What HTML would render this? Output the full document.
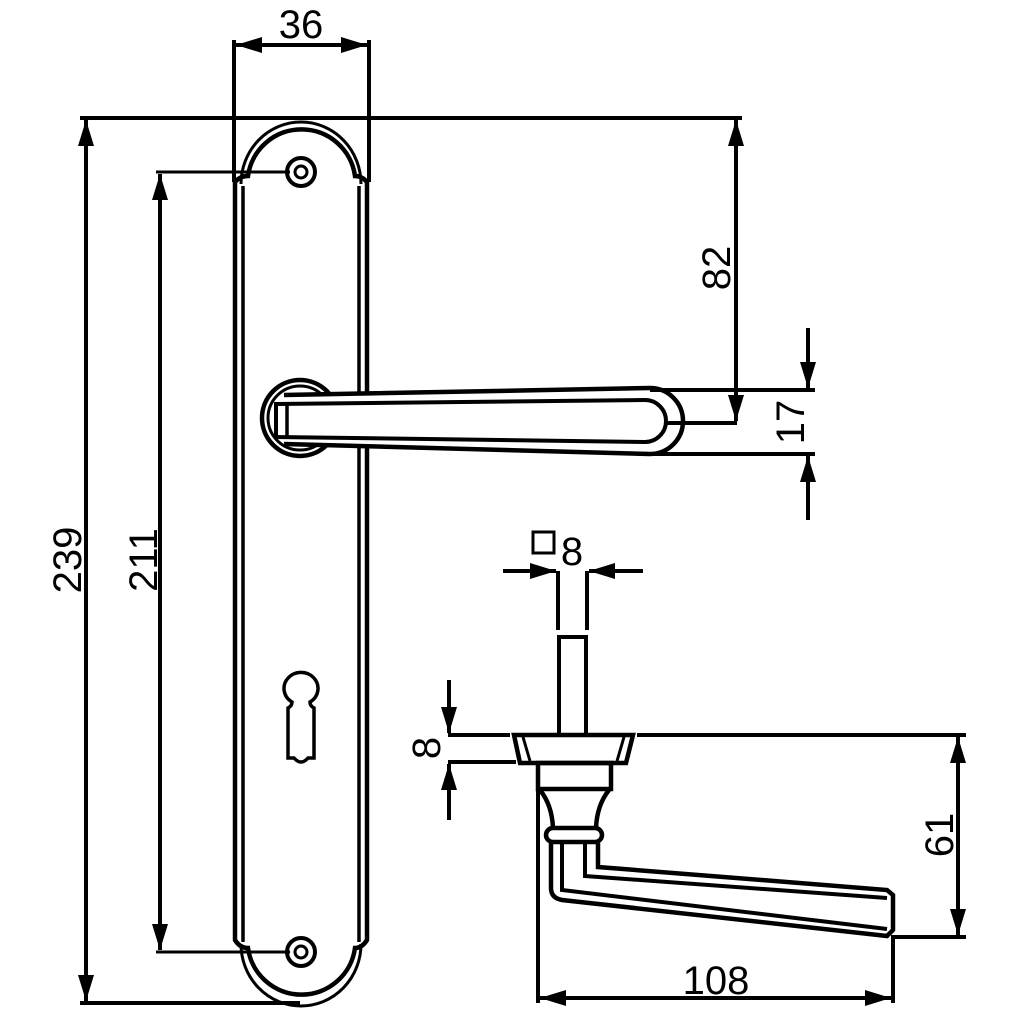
<!DOCTYPE html>
<html><head><style>html,body{margin:0;padding:0;background:#fff}svg{display:block}text{font-family:"Liberation Sans",sans-serif;font-size:40px;fill:#000}</style></head>
<body>
<svg width="1024" height="1024" viewBox="0 0 1024 1024" xmlns="http://www.w3.org/2000/svg">
<defs>
<marker id="a" viewBox="0 0 26 16" refX="26" refY="8" markerWidth="26" markerHeight="16" markerUnits="userSpaceOnUse" orient="auto-start-reverse"><path d="M0,0 L26,8 L0,16 Z" fill="#000"/></marker>
</defs>
<g stroke="#000" fill="none" stroke-width="4">
<!-- 36 dim -->
<line x1="234" y1="40" x2="234" y2="182"/>
<line x1="369" y1="40" x2="369" y2="182"/>
<line x1="236" y1="45" x2="367" y2="45" marker-start="url(#a)" marker-end="url(#a)"/>
<line x1="80" y1="118" x2="742" y2="118"/>
<line x1="80" y1="1003" x2="300" y2="1003"/>
<line x1="86" y1="120" x2="86" y2="1001" marker-start="url(#a)" marker-end="url(#a)"/>
<line x1="156" y1="172" x2="290" y2="172" stroke-width="3"/>
<line x1="156" y1="952" x2="290" y2="952" stroke-width="3"/>
<line x1="160" y1="174" x2="160" y2="950" marker-start="url(#a)" marker-end="url(#a)"/>
<!-- plate -->
<path d="M235,182 L235,940 Q240,948 248,948 A54,54 0 0 0 355,948 Q362,948 367,940 L367,182 Q362,176 355,176 A54,54 0 0 0 248,176 Q240,176 235,182 Z" stroke-width="4.5"/>
<path d="M243,186 L243,942 M359,186 L359,942" stroke-width="3.5"/>
<path d="M241,184 A60,62 0 0 1 361,184" stroke-width="3"/>
<path d="M241,944 A60,62 0 0 0 361,944" stroke-width="3"/>
<circle cx="301" cy="172" r="14" stroke-width="4"/><circle cx="301" cy="172" r="6" stroke-width="3"/>
<circle cx="301" cy="952" r="14" stroke-width="4"/><circle cx="301" cy="952" r="6" stroke-width="3"/>
<!-- keyhole -->
<path d="M292,702 A17,16 0 1 1 310,702 Q310,706 314,708 L314,758 L308,758 Q301,766 294,758 L288,758 L288,708 Q292,706 292,702 Z" stroke-width="3.5"/>
<!-- top lever -->
<circle cx="300" cy="418" r="38" stroke-width="4.5" fill="#fff"/>
<circle cx="300" cy="418" r="32" stroke-width="3"/>
<path d="M284,395 L650,388 A33,33 0 0 1 650,454 L284,444" stroke-width="4.5" fill="#fff"/>
<path d="M276,404 L645,400 A21,21 0 0 1 645,442 L276,437 Z" stroke-width="4"/>
<line x1="287" y1="404" x2="287" y2="437" stroke-width="3.5"/>
<line x1="650" y1="390" x2="815" y2="390"/>
<line x1="650" y1="454" x2="815" y2="454"/>
<line x1="667" y1="423" x2="737" y2="423"/>
<line x1="736" y1="120" x2="736" y2="421" marker-start="url(#a)" marker-end="url(#a)"/>
<line x1="808" y1="328" x2="808" y2="388" marker-end="url(#a)"/>
<line x1="808" y1="520" x2="808" y2="456" marker-end="url(#a)"/>
<!-- spindle -->
<line x1="503" y1="571" x2="556" y2="571" marker-end="url(#a)"/>
<line x1="643" y1="571" x2="589" y2="571" marker-end="url(#a)"/>
<line x1="558" y1="571" x2="558" y2="630"/>
<line x1="587" y1="571" x2="587" y2="630"/>
<rect x="559" y="637" width="27" height="98"/>
<rect x="533" y="532" width="21" height="21" stroke-width="3"/>
<!-- rose -->
<path d="M514,735 L633,735 L626,763 L520,763 Z" stroke-width="4.5"/>
<path d="M523,737 L530,761 M624,737 L617,761" stroke-width="3"/>
<line x1="448" y1="735" x2="510" y2="735"/>
<line x1="448" y1="762" x2="516" y2="762"/>
<line x1="637" y1="735" x2="966" y2="735"/>
<line x1="449" y1="680" x2="449" y2="733" marker-end="url(#a)"/>
<line x1="449" y1="820" x2="449" y2="764" marker-end="url(#a)"/>
<rect x="538" y="763" width="73" height="26" stroke-width="4.5"/>
<path d="M540,790 Q552,805 553,828 M609,790 Q597,805 596,828" stroke-width="4.5"/>
<rect x="546" y="828" width="56" height="14" rx="7" stroke-width="4.5"/>
<path d="M551,843 L551,888 Q551,898 562,900 L887,936 L893,930 L893,895 L887,890 L598,867 L598,843" stroke-width="4.5"/>
<path d="M562,843 L562,890 L887,929 M585,843 L585,876 L887,898" stroke-width="4"/>
<line x1="538" y1="790" x2="538" y2="1003"/>
<line x1="893" y1="935" x2="893" y2="1003"/>
<line x1="893" y1="937" x2="966" y2="937"/>
<line x1="958" y1="737" x2="958" y2="935" marker-start="url(#a)" marker-end="url(#a)"/>
<line x1="540" y1="998" x2="891" y2="998" marker-start="url(#a)" marker-end="url(#a)"/>
</g>
<text x="301" y="38" text-anchor="middle">36</text>
<text transform="translate(81,560) rotate(-90)" text-anchor="middle">239</text>
<text transform="translate(157,560) rotate(-90)" text-anchor="middle">211</text>
<text transform="translate(730,268) rotate(-90)" text-anchor="middle">82</text>
<text transform="translate(804,422) rotate(-90)" text-anchor="middle">17</text>
<text x="572" y="565" text-anchor="middle">8</text>
<text transform="translate(440,748) rotate(-90)" text-anchor="middle">8</text>
<text transform="translate(953,835) rotate(-90)" text-anchor="middle">61</text>
<text x="716" y="994" text-anchor="middle">108</text>
</svg>
</body></html>
